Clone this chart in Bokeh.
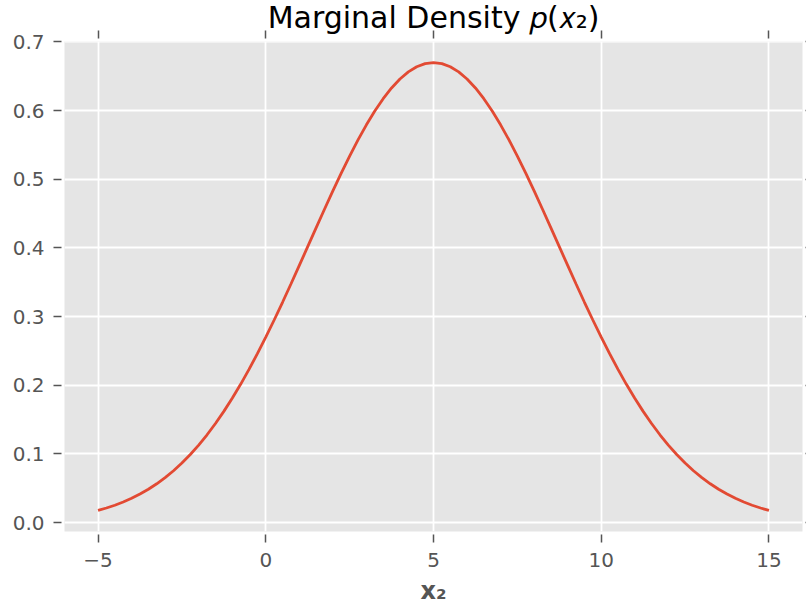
from bokeh.plotting import figure
from bokeh.models import FixedTicker, Range1d, LinearAxis
from bokeh.embed import file_html
from bokeh.resources import INLINE

# ---- data ----
x2_values = [-5.0, -4.75, -4.5, -4.25, -4.0, -3.75, -3.5, -3.25, -3.0, -2.75,
             -2.5, -2.25, -2.0, -1.75, -1.5, -1.25, -1.0, -0.75, -0.5, -0.25,
             0.0, 0.25, 0.5, 0.75, 1.0, 1.25, 1.5, 1.75, 2.0, 2.25,
             2.5, 2.75, 3.0, 3.25, 3.5, 3.75, 4.0, 4.25, 4.5, 4.75,
             5.0,
             5.25, 5.5, 5.75, 6.0, 6.25, 6.5, 6.75, 7.0, 7.25, 7.5,
             7.75, 8.0, 8.25, 8.5, 8.75, 9.0, 9.25, 9.5, 9.75, 10.0,
             10.25, 10.5, 10.75, 11.0, 11.25, 11.5, 11.75, 12.0, 12.25, 12.5,
             12.75, 13.0, 13.25, 13.5, 13.75, 14.0, 14.25, 14.5, 14.75, 15.0]
density = [0.0176, 0.0211, 0.0252, 0.0298, 0.0352, 0.0414, 0.0484, 0.0564, 0.0654, 0.0754,
           0.0866, 0.0991, 0.1128, 0.1278, 0.1442, 0.1619, 0.1809, 0.2013, 0.2230, 0.2459,
           0.2699, 0.2950, 0.3208, 0.3474, 0.3745, 0.4018, 0.4292, 0.4563, 0.4830, 0.5089,
           0.5338, 0.5573, 0.5793, 0.5994, 0.6174, 0.6330, 0.6461, 0.6564, 0.6639, 0.6685,
           0.6700,
           0.6685, 0.6639, 0.6564, 0.6461, 0.6330, 0.6174, 0.5994, 0.5793, 0.5573, 0.5338,
           0.5089, 0.4830, 0.4563, 0.4292, 0.4018, 0.3745, 0.3474, 0.3208, 0.2950, 0.2699,
           0.2459, 0.2230, 0.2013, 0.1809, 0.1619, 0.1442, 0.1278, 0.1128, 0.0991, 0.0866,
           0.0754, 0.0654, 0.0564, 0.0484, 0.0414, 0.0352, 0.0298, 0.0252, 0.0211, 0.0176]

x_ticks = [-5, 0, 5, 10, 15]
x_tick_labels = ["\u22125", "0", "5", "10", "15"]
y_ticks = [0.0, 0.1, 0.2, 0.3, 0.4, 0.5, 0.6, 0.7]
y_tick_labels = ["0.0", "0.1", "0.2", "0.3", "0.4", "0.5", "0.6", "0.7"]

title_text = "Marginal Density \U0001D45D(\U0001D465\u2082)"
x_label = "x\u2082"

# ---- styling ----
GREY = "#555555"
BG = "#E5E5E5"
RED = "#E24A33"
FONT = "DejaVu Sans"

p = figure(width=806, height=613, output_backend="svg", toolbar_location=None,
           x_range=Range1d(-6, 16), y_range=Range1d(-0.0131, 0.7007),
           min_border_left=64, min_border_right=4, min_border_top=41, min_border_bottom=82,
           background_fill_color=BG, border_fill_color="white", outline_line_color=None)

p.line(x2_values, density, line_color=RED, line_width=2.8)

def style_axis(ax, ticks, labels, show_labels=True, tick_out=11):
    ax.ticker = FixedTicker(ticks=ticks)
    ax.axis_line_color = None
    ax.major_tick_line_color = GREY
    ax.major_tick_line_width = 1.5
    ax.major_tick_in = -3
    ax.major_tick_out = tick_out
    ax.minor_tick_line_color = None
    if show_labels:
        ax.major_label_overrides = {t: l for t, l in zip(ticks, labels)}
        ax.major_label_text_font = FONT
        ax.major_label_text_font_size = "20px"
        ax.major_label_text_color = GREY
    else:
        ax.major_label_overrides = {t: "" for t in ticks}
        ax.major_label_text_font_size = "0px"
        ax.major_label_standoff = 0

style_axis(p.xaxis[0], x_ticks, x_tick_labels)
p.xaxis[0].major_label_standoff = 10
p.xaxis[0].axis_label = x_label
p.xaxis[0].axis_label_text_font = FONT
p.xaxis[0].axis_label_text_font_size = "24px"
p.xaxis[0].axis_label_text_font_style = "bold"
p.xaxis[0].axis_label_text_color = GREY
p.xaxis[0].axis_label_standoff = 7

style_axis(p.yaxis[0], y_ticks, y_tick_labels)
p.yaxis[0].major_label_standoff = 9

top_axis = LinearAxis()
style_axis(top_axis, x_ticks, x_tick_labels, show_labels=False, tick_out=11)
p.add_layout(top_axis, "above")
right_axis = LinearAxis()
style_axis(right_axis, y_ticks, y_tick_labels, show_labels=False, tick_out=4)
p.add_layout(right_axis, "right")

p.xgrid.ticker = FixedTicker(ticks=x_ticks)
p.ygrid.ticker = FixedTicker(ticks=y_ticks)
for g in (p.xgrid[0], p.ygrid[0]):
    g.grid_line_color = "white"
    g.grid_line_width = 1.8

p.title.text = title_text
p.title.align = "center"
p.title.text_font = FONT
p.title.text_font_size = "30px"
p.title.text_font_style = "normal"
p.title.text_color = "black"
p.title.standoff = -9

open("out.html", "w").write(file_html(p, INLINE))
